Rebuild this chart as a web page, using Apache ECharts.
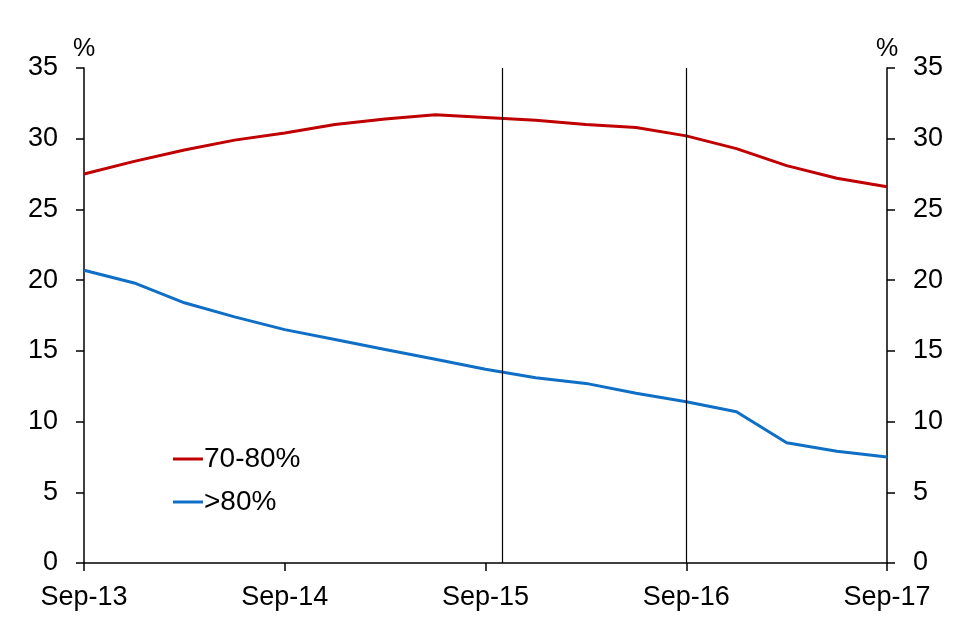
<!DOCTYPE html>
<html>
<head>
<meta charset="utf-8">
<script src="https://cdn.jsdelivr.net/npm/echarts@6/dist/echarts.min.js"></script>
<style>
  html, body { margin: 0; padding: 0; background: #fff; }
  #chart { width: 965px; height: 617px; }
</style>
</head>
<body>
<div id="chart"></div>
<script>
// months counted from Sep-13, quarterly points
var months = [0, 3, 6, 9, 12, 15, 18, 21, 24, 27, 30, 33, 36, 39, 42, 45, 48];
var tickLabels = ['Sep-13', 'Sep-14', 'Sep-15', 'Sep-16', 'Sep-17'];
var share7080 = [27.5, 28.4, 29.2, 29.9, 30.4, 31.0, 31.4, 31.7, 31.5, 31.3, 31.0, 30.8, 30.2, 29.3, 28.1, 27.2, 26.6];
var shareOver80 = [20.7, 19.8, 18.4, 17.4, 16.5, 15.8, 15.1, 14.4, 13.7, 13.1, 12.7, 12.0, 11.4, 10.7, 8.5, 7.9, 7.5];
var markMonths = [25, 36];

function pairs(vals) {
    var out = [];
    for (var i = 0; i < months.length; i++) {
        out.push([months[i], vals[i]]);
    }
    return out;
}

var myChart = echarts.init(document.getElementById('chart'));

var font = 'Liberation Sans, Arial, sans-serif';

function yAxisOf(pos) {
    return {
        type: 'value',
        position: pos,
        min: 0,
        max: 35,
        interval: 5,
        name: '%',
        nameLocation: 'end',
        nameGap: 6,
        nameTextStyle: { color: '#000', fontSize: 25, fontFamily: font, align: 'center' },
        axisLine: { show: true, lineStyle: { color: '#000', width: 1.5 } },
        axisTick: { show: true, length: 8, lineStyle: { color: '#000', width: 1.5 } },
        axisLabel: { color: '#000', fontSize: 27, fontFamily: font, margin: 26 },
        splitLine: { show: false }
    };
}

var option = {
    backgroundColor: '#fff',
    animation: false,
    grid: { left: 84, right: 78, top: 68, bottom: 54 },
    legend: {
        orient: 'vertical',
        left: 168,
        top: 440,
        itemWidth: 30,
        itemHeight: 3,
        itemGap: 15,
        icon: 'rect',
        textStyle: { color: '#000', fontSize: 28, fontFamily: font, padding: [0, 0, 0, -4] },
        data: ['70-80%', '>80%']
    },
    xAxis: {
        type: 'value',
        min: 0,
        max: 48,
        interval: 12,
        axisLine: { onZero: false, lineStyle: { color: '#000', width: 1.5 } },
        axisTick: { show: true, length: 8, lineStyle: { color: '#000', width: 1.5 } },
        axisLabel: {
            color: '#000', fontSize: 27, fontFamily: font, margin: 21,
            formatter: function (v) { return tickLabels[v / 12]; }
        },
        splitLine: { show: false }
    },
    yAxis: [yAxisOf('left'), yAxisOf('right')],
    series: [
        {
            name: '70-80%',
            type: 'line',
            color: '#C00000',
            symbol: 'none',
            lineStyle: { width: 3 },
            data: pairs(share7080),
            markLine: {
                silent: true,
                symbol: 'none',
                label: { show: false },
                lineStyle: { color: '#000', width: 1.2, type: 'solid' },
                data: markMonths.map(function (m) { return { xAxis: m }; })
            }
        },
        {
            name: '>80%',
            type: 'line',
            color: '#0F6FC6',
            symbol: 'none',
            lineStyle: { width: 3 },
            data: pairs(shareOver80)
        }
    ]
};

myChart.setOption(option, true);
</script>
</body>
</html>
